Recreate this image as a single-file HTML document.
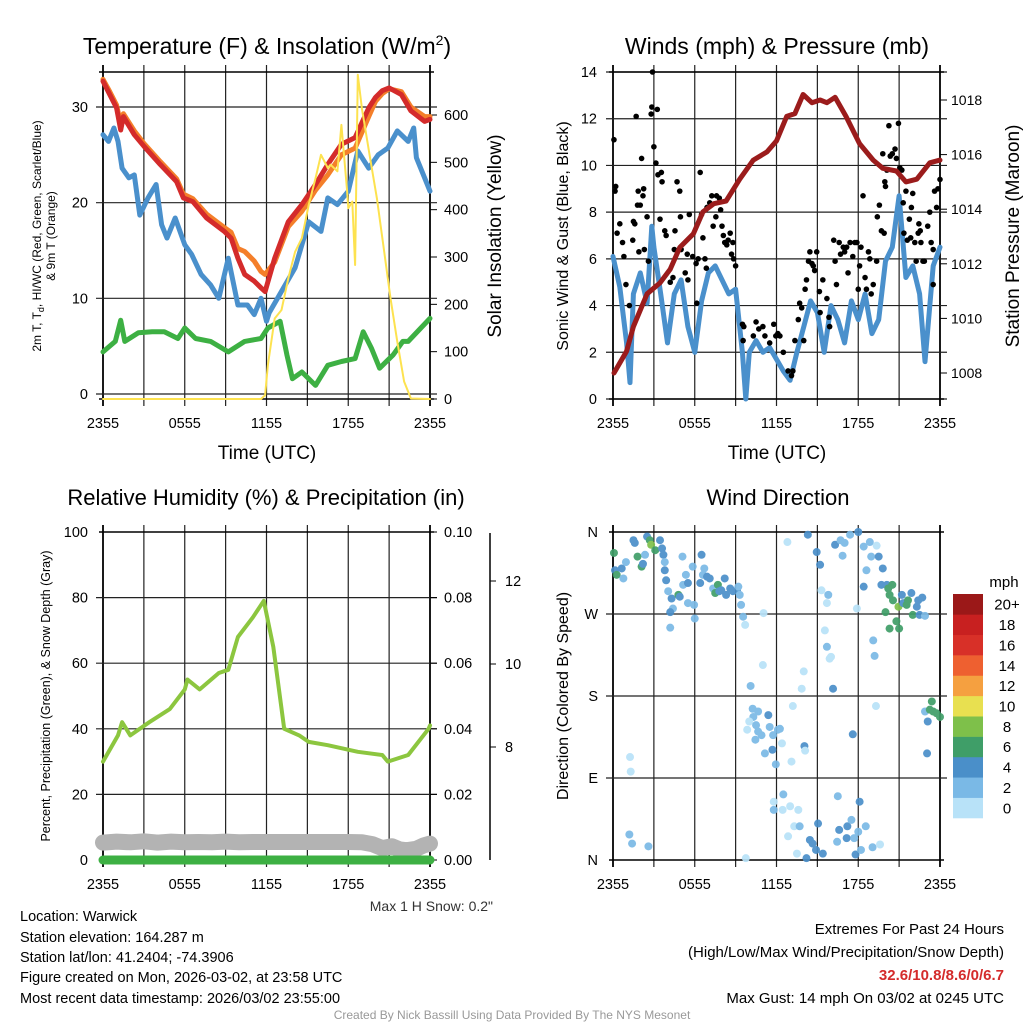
<!DOCTYPE html>
<html><head><meta charset="utf-8"><style>
html,body{margin:0;padding:0;background:#fff;}
svg{display:block;font-family:"Liberation Sans",Arial,sans-serif;}
</style></head><body>
<svg id="chart" xmlns="http://www.w3.org/2000/svg" width="1024" height="1024" viewBox="0 0 1024 1024">
<rect width="1024" height="1024" fill="#fff"/>
<g id="p1"></g>
<g id="p2"></g>
<g id="p3"></g>
<g id="p4"></g>
<g id="txt">
<text x="267" y="54" font-size="23" text-anchor="middle">Temperature (F) &amp; Insolation (W/m<tspan dy="-9" font-size="14">2</tspan><tspan dy="9">)</tspan></text>
<text x="777" y="54" font-size="23" text-anchor="middle">Winds (mph) &amp; Pressure (mb)</text>
<text x="266" y="505" font-size="22" text-anchor="middle">Relative Humidity (%) &amp; Precipitation (in)</text>
<text x="778" y="505" font-size="22" text-anchor="middle">Wind Direction</text>
<text x="267" y="459" font-size="19" text-anchor="middle">Time (UTC)</text>
<text x="777" y="459" font-size="19" text-anchor="middle">Time (UTC)</text>
<text transform="translate(41,236) rotate(-90)" font-size="12" text-anchor="middle">2m T, T<tspan dy="3" font-size="9">d</tspan><tspan dy="-3">, HI/WC (Red, Green, Scarlet/Blue)</tspan></text>
<text transform="translate(55,236) rotate(-90)" font-size="12" text-anchor="middle">&amp; 9m T (Orange)</text>
<text transform="translate(501,236) rotate(-90)" font-size="19" text-anchor="middle">Solar Insolation (Yellow)</text>
<text transform="translate(568,236) rotate(-90)" font-size="16" text-anchor="middle">Sonic Wind &amp; Gust (Blue, Black)</text>
<text transform="translate(1019,236) rotate(-90)" font-size="19" text-anchor="middle">Station Pressure (Maroon)</text>
<text transform="translate(50,696) rotate(-90)" font-size="12.5" text-anchor="middle">Percent, Precipitation (Green), &amp; Snow Depth (Gray)</text>
<text transform="translate(568,696) rotate(-90)" font-size="16" text-anchor="middle">Direction (Colored By Speed)</text>
<text x="493" y="911" font-size="14" text-anchor="end" fill="#333">Max 1 H Snow: 0.2"</text>
<g font-size="14.5">
<text x="20" y="921">Location: Warwick</text>
<text x="20" y="942">Station elevation: 164.287 m</text>
<text x="20" y="962">Station lat/lon: 41.2404; -74.3906</text>
<text x="20" y="982">Figure created on Mon, 2026-03-02, at 23:58 UTC</text>
<text x="20" y="1003">Most recent data timestamp: 2026/03/02 23:55:00</text>
</g>
<g font-size="15" text-anchor="end">
<text x="1004" y="934">Extremes For Past 24 Hours</text>
<text x="1004" y="957">(High/Low/Max Wind/Precipitation/Snow Depth)</text>
<text x="1004" y="980" fill="#d42b2b" font-weight="bold">32.6/10.8/8.6/0/6.7</text>
<text x="1004" y="1003">Max Gust: 14 mph On 03/02 at 0245 UTC</text>
</g>
<text x="512" y="1019" font-size="12" text-anchor="middle" fill="#999">Created By Nick Bassill Using Data Provided By The NYS Mesonet</text>
</g>
</svg>
<script>
// ---------- DATA ----------
const xTickLabels = ["2355","0555","1155","1755","2355"];
const tempTicks = [0,10,20,30];
const solarTicks = [0,100,200,300,400,500,600];
const windTicks = [0,2,4,6,8,10,12,14];
const presTicks = [1008,1010,1012,1014,1016,1018];
const rhTicks = [0,20,40,60,80,100];
const precipTicks = ["0.00","0.02","0.04","0.06","0.08","0.10"];
const snowTicks = [8,10,12];
const dirTicks = ["N","E","S","W","N"];
const speedBins = ["0","2","4","6","8","10","12","14","16","18","20+"];

const tHours = [0.0,0.5,1.0,1.3,1.5,2.3,3.0,4.2,5.4,5.9,6.6,7.6,8.9,9.4,9.9,10.4,11.1,11.6,11.9,12.6,13.6,14.6,15.6,16.5,17.5,18.5,19.5,20.0,20.5,21.0,21.9,22.6,23.6,24.0];
const tempRed = [32.7,31.3,29.9,27.6,29.0,27.1,25.9,24.0,22.2,20.5,20.1,18.4,17.0,16.3,14.2,12.5,11.8,11.1,10.7,14.2,18.0,19.8,21.9,24.0,26.1,26.8,29.9,31.0,31.7,32.0,31.3,29.6,28.5,28.7];
const temp9m = [32.9,31.6,30.2,28.2,29.3,27.5,26.2,24.3,22.5,20.9,20.4,18.8,17.4,16.9,15.2,14.9,13.9,12.8,12.5,13.8,17.5,19.1,21.3,22.9,25.0,25.7,29.0,30.6,31.4,31.9,31.6,30.0,29.0,29.0];
const blueHours = [0.0,0.4,0.8,1.1,1.4,1.9,2.3,2.7,3.3,3.9,4.3,4.7,5.3,6.0,6.5,7.2,7.9,8.5,9.2,9.9,10.6,11.1,11.6,12.0,12.2,14.1,15.1,16.0,16.5,17.2,18.0,18.7,19.5,20.2,20.9,21.6,22.4,22.8,23.0,23.6,24.0];
const tempBlue = [27.1,26.4,27.8,26.4,23.6,22.6,22.9,18.7,20.5,21.9,17.7,16.3,18.4,15.6,14.6,12.5,11.4,10.0,14.2,9.3,9.3,8.3,10.0,7.6,8.5,13.2,18.0,17.0,20.5,19.8,21.2,25.4,23.6,25.0,25.7,27.5,26.4,27.8,24.7,22.6,21.2];
const greenHours = [0.0,0.9,1.3,1.6,2.6,3.6,4.5,5.5,6.0,6.8,7.9,9.2,10.4,11.6,12.1,13.0,13.5,13.9,14.6,15.6,16.5,17.5,18.5,19.1,19.7,20.3,21.3,22.0,22.4,24.0];
const tempGreen = [4.4,5.5,7.7,5.5,6.4,6.5,6.5,5.8,6.9,5.8,5.5,4.4,5.5,5.8,6.9,7.6,4.1,1.6,2.3,0.9,3.0,3.4,3.7,6.5,4.8,2.7,4.1,5.5,5.5,7.9];
const solarHours = [0,11.6,11.9,12.1,12.6,13.1,13.6,14.1,14.6,15.1,15.6,16.0,16.5,16.7,17.2,17.5,17.9,18.0,18.3,18.5,18.7,19.0,19.6,20.1,20.6,21.1,21.6,22.1,22.6,24.0];
const solarVals = [0,0,8,72,170,188,255,311,340,410,466,516,488,495,481,579,445,403,417,283,685,614,509,424,319,213,121,37,1,0];

const windHours = [0,0.5,1.0,1.25,1.5,2,2.5,2.85,3,3.5,4,4.5,5,5.5,6,6.5,7,7.5,8,8.5,9,9.5,9.75,10,10.5,11,11.5,12,12.5,13,13.5,14,14.5,15,15.5,16,16.5,17,17.5,18,18.5,19,19.5,20,20.5,21,21.5,22,22.5,22.9,23.5,24];
const windVals = [6.1,4.8,2.4,0.7,4.5,5.4,4.1,7.4,6.5,4.5,2.4,4.5,5.1,3.1,2.0,4.2,5.4,5.7,5.1,4.5,4.7,2.0,0.0,2.0,2.5,2.0,2.2,1.7,1.2,0.8,2.0,3.1,4.2,3.7,2.0,4.0,3.4,2.4,4.2,3.4,4.5,2.8,3.4,5.9,6.5,8.7,5.2,5.7,4.5,1.6,5.7,6.5];
const gustHours = [0.07,0.15,0.2,0.3,0.5,0.7,0.8,0.95,1.2,1.45,1.5,1.7,1.6,1.8,1.85,2.0,2.1,2.2,2.25,1.9,2.3,2.5,2.6,2.8,2.85,2.9,3.0,3.15,3.25,3.3,3.45,3.55,3.6,3.8,3.9,4.2,4.4,4.5,4.55,4.7,4.9,4.95,5.0,5.3,5.5,5.45,5.6,5.85,6.1,6.15,6.25,6.4,6.5,6.6,6.75,6.85,6.9,7.1,7.25,7.35,7.55,7.6,7.8,7.9,8.0,8.1,8.2,8.35,8.45,8.6,8.7,8.8,8.85,9.0,9.5,9.6,9.55,10.3,10.5,10.7,11.0,11.15,11.5,11.8,11.95,12.1,12.25,12.5,12.85,13.1,13.2,13.35,13.6,13.7,13.85,14.0,14.1,14.2,14.35,14.45,14.6,14.7,14.8,14.95,15.15,15.2,15.4,15.7,15.85,15.9,16.2,16.3,16.4,16.6,16.7,16.9,17.0,17.15,17.25,17.4,17.6,17.75,17.9,18.0,18.1,18.2,18.35,18.5,18.6,18.75,18.85,18.95,19.1,19.35,19.4,19.55,19.7,19.9,19.8,19.95,20.0,20.1,20.25,20.35,20.5,20.7,20.8,20.95,21.05,21.2,21.3,21.35,21.5,21.6,21.75,21.85,21.9,22.0,22.15,22.25,22.4,22.45,22.55,22.6,22.75,22.85,23.1,23.25,23.35,23.5,23.6,23.75,23.85,24.0,23.5];
const gustVals = [11.1,8.9,9.1,7.1,7.5,6.7,6.1,4.9,4.0,6.8,7.6,12.1,7.5,8.3,8.9,8.3,10.3,8.7,9.0,6.3,6.4,7.8,5.9,12.2,12.5,14.0,10.8,10.1,12.4,9.6,7.7,9.7,9.3,7.2,7.0,5.0,5.2,6.4,7.2,9.3,8.9,7.8,6.4,5.4,5.1,6.2,7.9,6.1,5.8,4.1,6.0,9.7,7.9,6.9,6.0,5.6,8.2,8.4,8.7,7.4,7.8,8.7,8.6,8.1,7.4,7.0,6.7,6.6,6.8,7.1,6.2,6.7,6.0,5.7,3.2,3.1,2.5,2.7,3.3,3.0,3.1,2.7,2.4,3.2,2.7,2.8,2.7,2.0,1.2,1.0,1.2,2.5,3.4,4.1,3.9,2.5,4.7,5.1,5.9,6.3,5.8,5.7,5.5,6.3,4.6,3.7,5.1,4.3,3.5,3.1,6.8,5.9,4.9,6.7,6.2,6.5,6.3,6.5,5.4,6.7,6.1,6.7,6.7,4.7,5.7,6.5,8.7,5.2,4.7,6.3,6.0,4.5,4.9,5.9,7.8,8.3,7.2,7.1,10.5,9.3,9.1,9.8,11.7,10.4,10.5,10.7,10.3,11.8,9.9,9.8,8.4,7.1,8.9,6.8,7.7,6.9,8.2,8.8,6.7,5.9,7.1,7.5,7.2,6.7,5.9,5.9,7.4,8.0,6.7,6.4,8.9,8.2,9.0,9.4,4.9];
const presHours = [0.07,1.0,1.5,2.5,3.45,4.2,4.9,5.9,6.6,7.4,8.3,9.3,10.3,11.3,12.0,12.75,13.35,13.95,14.6,15.2,15.7,16.3,17.1,18.1,19.1,19.8,20.8,21.5,22.3,23.25,24.0];
const presVals = [1008.0,1008.8,1009.7,1010.9,1011.3,1011.8,1012.6,1013.1,1013.9,1014.2,1014.3,1015.1,1015.8,1016.1,1016.5,1017.4,1017.5,1018.2,1017.9,1018.0,1017.9,1018.1,1017.4,1016.4,1015.8,1015.5,1015.4,1015.0,1015.1,1015.7,1015.8];

const rhHours = [0,1.1,1.4,2.0,3.4,4.9,6.0,6.2,7.1,8.5,9.2,9.9,11.0,11.8,12.5,13.3,14.4,15.1,16.5,18.7,20.5,20.9,22.4,23.9,24.0];
const rhVals = [30,38,42,38,42,46,52,55,52,57,58,68,74,79,65,40,38,36,35,33,32,30,32,40,41];
const precipVals = [0,0];
const precipHours = [0,24];
const snowHours = [0,1,2,3,4,5,6,7,8,9,10,11,12,13,14,15,16,17,18,19,19.8,20.5,21.2,21.8,22.3,23,23.5,24];
const snowVals = [5.3,5.6,5.4,5.7,5.3,5.6,5.4,5.5,5.4,5.6,5.4,5.5,5.5,5.5,5.5,5.5,5.5,5.5,5.5,5.4,4.8,3.6,4.2,3.2,3.0,3.4,4.4,5.0];

const dirHours = [0.07,0.15,0.27,0.64,0.76,0.95,1.5,1.6,1.8,2.1,2.2,2.35,2.5,2.7,2.8,3.1,3.45,3.6,3.7,3.8,3.8,3.9,4.05,4.3,4.4,4.2,4.2,4.8,4.9,5.1,5.15,5.35,5.5,5.5,5.85,5.95,6.0,6.4,6.5,6.6,6.7,6.9,7.1,7.35,7.5,7.7,7.8,7.95,8.2,8.3,8.6,8.8,9.1,9.2,9.3,9.4,9.55,9.7,9.75,10.1,10.25,10.3,10.65,10.0,9.85,10.5,10.65,10.45,10.9,11.4,11.5,11.75,12.1,12.25,11.15,11.7,11.95,12.4,13.1,11.0,11.05,12.8,13.2,12.5,11.8,11.8,12.45,13.0,13.6,13.3,12.85,13.7,13.5,14.0,13.85,14.05,14.1,14.2,14.3,14.45,14.65,14.9,14.95,15.05,15.2,15.3,15.4,15.55,15.7,15.8,15.7,15.9,16.0,16.15,16.3,16.5,16.6,16.45,16.85,16.7,17.0,17.2,17.15,17.4,17.5,17.6,17.7,17.8,17.9,18.0,18.1,18.0,18.2,18.4,18.4,18.55,18.6,18.85,18.95,19.1,19.2,19.3,19.05,19.35,19.5,19.6,19.8,19.7,20.0,20.1,20.2,20.3,20.3,20.5,20.55,20.8,20.95,21.0,21.2,21.3,21.55,21.65,21.9,22.0,22.3,22.4,22.5,22.7,22.9,22.9,23.1,23.05,23.4,23.5,23.75,24.0,23.25,1.25,1.3,1.2,1.4,2.6];
const dirDegs = [337,318,313,320,309,327,351,348,333,322,325,335,355,351,346,340,351,342,335,327,318,307,295,287,276,272,255,291,289,333,302,313,304,282,322,280,265,304,335,313,320,311,309,298,293,302,295,296,309,291,298,295,296,300,291,280,267,258,2,191,166,157,163,152,143,148,141,132,137,159,146,137,143,144,117,121,105,128,108,214,271,349,169,72,64,55,55,59,55,37,26,37,7,207,188,125,120,2,357,22,18,11,338,40,324,296,7,252,282,291,234,221,223,188,346,70,33,20,334,351,348,37,24,357,44,138,24,6,276,360,64,31,11,300,344,37,318,349,333,241,224,169,14,345,333,17,320,302,272,302,298,254,291,302,285,262,278,254,291,282,280,285,293,269,278,285,269,288,268,163,152,117,174,163,161,157,165,113,97,28,18,15];
const dirSpeeds = [7,5,6,5,3,3,5,5,6,6,5,3,5,7,9,6,5,5,5,3,5,5,3,5,3,5,3,7,5,3,3,3,5,3,3,2,3,5,5,3,3,5,5,3,7,7,5,5,5,5,5,5,5,3,3,3,3,1,1,3,3,3,3,1,1,3,3,3,3,5,3,3,3,3,3,5,3,1,1,1,1,1,1,3,1,3,1,1,1,1,1,3,1,1,1,5,1,5,5,5,5,5,5,5,5,1,5,1,1,3,3,1,1,5,5,3,5,3,3,3,3,5,5,3,3,5,3,5,1,5,5,3,3,5,3,3,3,3,3,3,3,1,3,1,5,1,5,5,7,5,7,7,7,7,7,7,9,7,5,5,7,7,5,7,5,5,5,5,3,3,5,5,7,7,7,7,7,1,1,3,3,3];

// ---------- helpers ----------
const NS = "http://www.w3.org/2000/svg";
function mk(parent, tag, attrs){ const e=document.createElementNS(NS,tag); for(const k in attrs) e.setAttribute(k,attrs[k]); parent.appendChild(e); return e; }
function txt(parent, x, y, s, size, anchor){ const t=mk(parent,"text",{x:x,y:y,"font-size":size,"text-anchor":anchor||"middle"}); t.textContent=s; return t; }
function xScale(x0,x1){ return h => x0 + (x1-x0)*h/24; }
function linScale(v0,p0,v1,p1){ return v => p0 + (v-v0)*(p1-p0)/(v1-v0); }
function pathFrom(hs, vs, xs, ys){ return hs.map((h,i)=>(i?"L":"M")+xs(h).toFixed(1)+","+ys(vs[i]).toFixed(1)).join(""); }
function frame(g, x0, x1, y0, y1, hy){
  const xs = xScale(x0,x1);
  for(let k=0;k<=8;k++){ const x=xs(k*3);
    const l=mk(g,"line",{x1:x,y1:y0-7,x2:x,y2:y1+7,stroke:k%8===0?"#000":"#222","stroke-width":k%8===0?1.8:1.2});
      }
  hy.forEach(y=>{ mk(g,"line",{x1:x0-7,y1:y,x2:x1+7,y2:y,stroke:"#222","stroke-width":1.2}); });
  mk(g,"line",{x1:x0-4,y1:y0,x2:x1+4,y2:y0,stroke:"#000","stroke-width":1.5});
  mk(g,"line",{x1:x0-4,y1:y1,x2:x1+4,y2:y1,stroke:"#000","stroke-width":1.5});
  const lab=mk(g,"g",{});
  xTickLabels.forEach((s,i)=>txt(lab, xs(i*6), y1+29, s, 14.5));
  return xs;
}
function line(g, d, color, w, name){ const p=mk(g,"path",{d:d,fill:"none",stroke:color,"stroke-width":w,"stroke-linejoin":"round","stroke-linecap":"round"});
    return p; }

// ---------- Panel 1 ----------
(function(){
  const g=document.getElementById("p1");
  const yT=linScale(0,394,30,107), yS=linScale(0,399,600,115);
  const xs=frame(g,103,430,72,399,tempTicks.map(yT));
  const lab=mk(g,"g",{});
  tempTicks.forEach(v=>txt(lab,88,yT(v)+5,String(v),14.5,"end"));
  const lab2=mk(g,"g",{});
  solarTicks.forEach(v=>{ txt(lab2,444,yS(v)+5,String(v),14.5,"start"); mk(g,"line",{x1:430,y1:yS(v),x2:437,y2:yS(v),stroke:"#000"}); });
  line(g,pathFrom(greenHours,tempGreen,xs,yT),"#3db043",5,"dewpoint-line");
  line(g,pathFrom(blueHours,tempBlue,xs,yT),"#4a90cc",5,"windchill-line");
  line(g,pathFrom(tHours,temp9m,xs,yT),"#f47f2a",5,"temp-9m-line");
  line(g,pathFrom(tHours,tempRed,xs,yT),"#d42b2b",5,"temp-2m-line");
  line(g,pathFrom(solarHours,solarVals,xs,yS),"#fde24f",2,"solar-line");
})();

// ---------- Panel 2 ----------
(function(){
  const g=document.getElementById("p2");
  const yW=linScale(0,399,14,72), yP=linScale(1008,373,1018,100);
  const xs=frame(g,613,940,72,399,windTicks.map(yW));
  const lab=mk(g,"g",{});
  windTicks.forEach(v=>txt(lab,597,yW(v)+5,String(v),14.5,"end"));
  const lab2=mk(g,"g",{});
  presTicks.forEach(v=>{ txt(lab2,951,yP(v)+5,String(v),14,"start"); mk(g,"line",{x1:940,y1:yP(v),x2:947,y2:yP(v),stroke:"#000"}); });
  line(g,pathFrom(windHours,windVals,xs,yW),"#4a90cc",5,"sonic-wind-line");
  const dots=mk(g,"g",{});
  gustHours.forEach((h,i)=>{ const c=mk(dots,"circle",{cx:xs(h),cy:yW(gustVals[i]),r:2.8,fill:"#000"});
      });
  line(g,pathFrom(presHours,presVals,xs,yP),"#9b1c1c",5,"pressure-line");
})();

// ---------- Panel 3 ----------
(function(){
  const g=document.getElementById("p3");
  const yR=linScale(0,860,100,532);
  const xs=frame(g,103,430,532,860,[20,40,60,80].map(yR));
  const lab=mk(g,"g",{});
  rhTicks.forEach(v=>txt(lab,88,yR(v)+5,String(v),14.5,"end"));
  const lab2=mk(g,"g",{});
  precipTicks.forEach((s,i)=>{ const y=yR(i*20); txt(lab2,444,y+5,s,14.5,"start"); mk(g,"line",{x1:430,y1:y,x2:437,y2:y,stroke:"#000"}); });
  const ySn=linScale(8,747,12,581);
  mk(g,"line",{x1:490,y1:533,x2:490,y2:860,stroke:"#000","stroke-width":1.5});
  const lab3=mk(g,"g",{});
  snowTicks.forEach(v=>{ txt(lab3,505,ySn(v)+5,String(v),14.5,"start"); mk(g,"line",{x1:490,y1:ySn(v),x2:496,y2:ySn(v),stroke:"#000"}); });
  line(g,pathFrom(rhHours,rhVals,xs,yR),"#8cc63f",4,"rh-line");
  line(g,pathFrom(snowHours,snowVals,xs,yR),"#b3b3b3",16,"snow-depth-line");
  line(g,pathFrom(precipHours,precipVals.map(v=>v*1000),xs,yR),"#3db043",9,"precip-line");
})();

// ---------- Panel 4 ----------
(function(){
  const g=document.getElementById("p4");
  const yD=linScale(0,860,360,532);
  const xs=frame(g,613,940,532,860,[90,180,270].map(yD));
  const lab=mk(g,"g",{});
  dirTicks.forEach((s,i)=>txt(lab,598,yD(i*90)+5,s,14.5,"end"));
  const cols=["#b8e2f8","#7ab9e6","#4a8fc9","#3f9e68","#7ec04a","#e8e050","#f5a040","#ee6030","#d83028","#c82020","#9b1818"];
  const pts=mk(g,"g",{"opacity":"0.92"});
  dirHours.forEach((h,i)=>{ const ci=Math.min(10,Math.floor(dirSpeeds[i]/2));
    const c=mk(pts,"circle",{cx:xs(h),cy:yD(dirDegs[i]),r:4,fill:cols[ci]});
      });
  const leg=mk(g,"g",{});
  txt(leg,1004,587,"mph",15,"middle");
  const bh=(818-594)/11;
  speedBins.forEach((s,i)=>{ const y=818-(i+1)*bh;
    const r=mk(leg,"rect",{x:953,y:y,width:30,height:bh+0.3,fill:cols[i]});
     
    txt(leg,1007,y+bh/2+5.5,s,15,"middle"); });
})();
</script>
</body></html>
